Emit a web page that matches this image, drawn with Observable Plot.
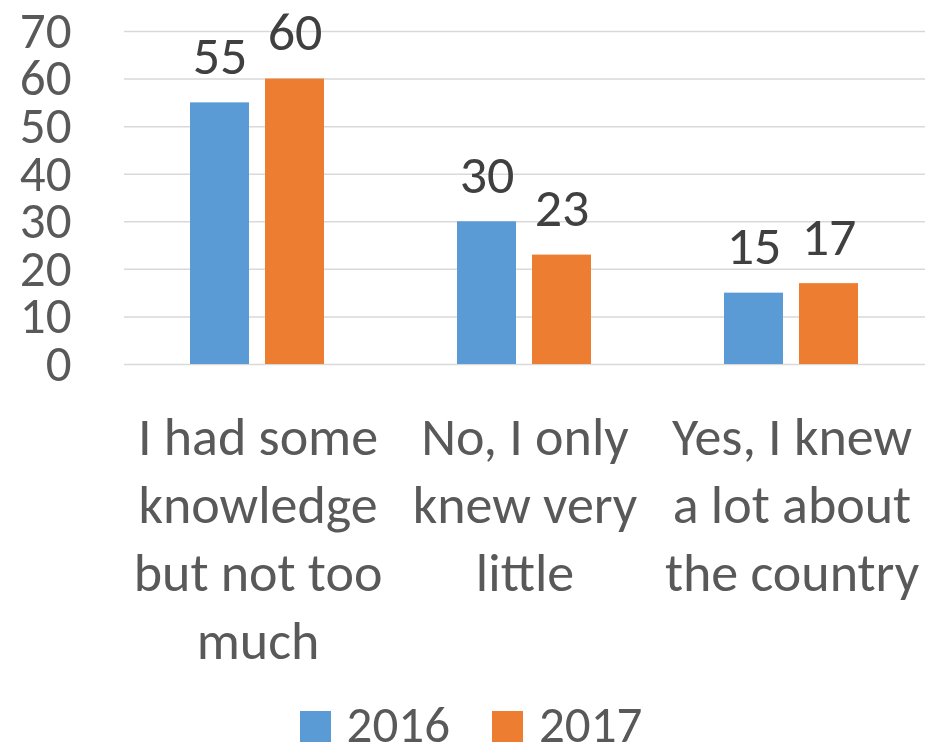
<!DOCTYPE html>
<html>
<head>
<meta charset="utf-8">
<script src="https://cdn.jsdelivr.net/npm/d3@7"></script>
<script src="https://cdn.jsdelivr.net/npm/@observablehq/plot@0.6"></script>
<style>
  body { margin: 0; background: #fff; font-family: Carlito, Lato, sans-serif; overflow: hidden; }
  #legend { display: flex; justify-content: center; align-items: center; height: 52px; gap: 42px; color: #595959; font-size: 51px; line-height: 1; padding-left: 14px; }
  #legend .item { display: flex; align-items: center; gap: 16px; }
  #legend .sw { width: 31px; height: 31px; display: inline-block; margin-top: 4px; }
</style>
</head>
<body>
<div id="chart"></div>
<div id="legend"></div>
<script>
const categories = [
  "I had some knowledge but not too much",
  "No, I only knew very little",
  "Yes, I knew a lot about the country"
];
const categoryLines = [
  ["I had some", "knowledge", "but not too", "much"],
  ["No, I only", "knew very", "little"],
  ["Yes, I knew", "a lot about", "the country"]
];
const years = ["2016", "2017"];
const values2016 = [55, 30, 15];
const values2017 = [60, 23, 17];
const yTicks = [0, 10, 20, 30, 40, 50, 60, 70];
const colors = ["#5b9bd5", "#ed7d31"];

const data = [];
categories.forEach((c, i) => {
  data.push({category: c, year: years[0], value: values2016[i]});
  data.push({category: c, year: years[1], value: values2017[i]});
});
const lineMap = new Map(categories.map((c, i) => [c, categoryLines[i].join("\n")]));

const font = "Carlito, Lato, sans-serif";
const chart = Plot.plot({
  width: 928,
  height: 698,
  marginLeft: 123,
  marginRight: 3,
  marginTop: 31,
  marginBottom: 334,
  style: {fontFamily: font, color: "#595959", background: "#fff", overflow: "visible", display: "block"},
  fx: {domain: categories, padding: 0, label: null},
  x: {domain: years, paddingInner: 0.21, paddingOuter: 0.868, axis: null},
  y: {domain: [0, 70], axis: null},
  color: {domain: years, range: colors},
  marks: [
    Plot.ruleY(yTicks, {stroke: "#d9d9d9", strokeWidth: 1.5}),
    Plot.barY(data, {fx: "category", x: "year", y: "value", fill: "year"}),
    Plot.text(data, {fx: "category", x: "year", y: "value", text: d => String(d.value),
      lineAnchor: "bottom", dy: -29, fontSize: 54, fill: "#404040"}),
    Plot.axisY({ticks: yTicks, tickSize: 0, tickPadding: 53, fontSize: 51, tickFormat: d => String(d), label: null}),
    Plot.axisFx({anchor: "bottom", tickSize: 0, tickPadding: 42, fontSize: 54, lineHeight: 1.26, label: null,
      tickFormat: d => lineMap.get(d)})
  ]
});
document.getElementById("chart").appendChild(chart);

const legend = document.getElementById("legend");
years.forEach((y, i) => {
  const item = document.createElement("span");
  item.className = "item";
  const sw = document.createElement("span");
  sw.className = "sw";
  sw.style.background = colors[i];
  const t = document.createElement("span");
  t.textContent = y;
  item.appendChild(sw);
  item.appendChild(t);
  legend.appendChild(item);
});
</script>
</body>
</html>
